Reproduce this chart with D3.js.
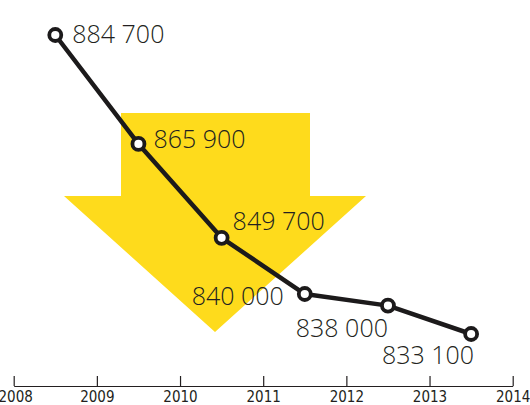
<!DOCTYPE html>
<html>
<head>
<meta charset="utf-8">
<script src="https://cdn.jsdelivr.net/npm/d3@7"></script>
<style>
  body { margin: 0; background: #fff; }
  svg { display: block; }
  .value-label { font-family: "Open Sans", sans-serif; font-weight: 300; font-size: 25px; fill: #231f20; }
  .axis text { font-family: "Liberation Sans Narrow", "DejaVu Sans Condensed", sans-serif; font-size: 15px; fill: #231f20; }
</style>
</head>
<body>
<div id="chart"></div>
<script>
  // data
  var years = [2008, 2009, 2010, 2011, 2012, 2013];
  var values = [884700, 865900, 849700, 840000, 838000, 833100];
  var labels = ["884 700", "865 900", "849 700", "840 000", "838 000", "833 100"];
  var tickYears = [2008, 2009, 2010, 2011, 2012, 2013, 2014];

  // label offsets from each point (anchor, dx, dy)
  var labelPos = [
    ["start", 17, 8],
    ["start", 15, 4],
    ["start", 11, -8],
    ["end", -21, 11],
    ["end", 0, 31],
    ["end", 3, 30]
  ];

  var width = 530, height = 405;
  var axisY = 386;

  var svg = d3.select("#chart").append("svg")
    .attr("width", width)
    .attr("height", height);

  var x = d3.scaleLinear().domain([2008, 2014]).range([13.7, 512.7]);
  var y = d3.scaleLinear().domain([833100, 884700]).range([334, 35]);

  // the big yellow arrow behind the line
  var arrow = [[121, 113], [310, 113], [310, 196], [366, 196], [215, 332], [64, 196], [121, 196]];
  svg.append("path")
    .attr("d", d3.line()(arrow) + "Z")
    .attr("fill", "#fedb1c");

  // axis
  var axis = d3.axisBottom(x)
    .tickValues(tickYears)
    .tickFormat(d3.format("d"))
    .tickSizeInner(-10)
    .tickSizeOuter(0);

  var gAxis = svg.append("g")
    .attr("class", "axis")
    .attr("transform", "translate(0," + axisY + ")")
    .call(axis);
  gAxis.select(".domain").attr("stroke", "#231f20").attr("stroke-width", 1.2);
  gAxis.selectAll(".tick line").attr("stroke", "#231f20").attr("stroke-width", 1.2);
  gAxis.selectAll(".tick text").attr("dy", null).attr("y", 16)
    .attr("x", function(d, i) { return i === 0 ? 1.5 : 0; });

  var pts = years.map(function(yr, i) {
    return { x: x(yr + 0.5), y: y(values[i]), label: labels[i], pos: labelPos[i] };
  });

  // line
  svg.append("path")
    .datum(pts)
    .attr("d", d3.line().x(function(d) { return d.x; }).y(function(d) { return d.y; }))
    .attr("fill", "none")
    .attr("stroke", "#1c1a1b")
    .attr("stroke-width", 4.5)
    .attr("stroke-linejoin", "round");

  // points
  svg.selectAll(".point")
    .data(pts)
    .enter()
    .append("circle")
    .attr("class", "point")
    .attr("cx", function(d) { return d.x; })
    .attr("cy", function(d) { return d.y; })
    .attr("r", 6)
    .attr("fill", "#fff")
    .attr("stroke", "#1c1a1b")
    .attr("stroke-width", 3.8);

  // value labels
  svg.selectAll(".value-label")
    .data(pts)
    .enter()
    .append("text")
    .attr("class", "value-label")
    .attr("text-anchor", function(d) { return d.pos[0]; })
    .attr("x", function(d) { return d.x + d.pos[1]; })
    .attr("y", function(d) { return d.y + d.pos[2]; })
    .text(function(d) { return d.label; });
</script>
</body>
</html>
